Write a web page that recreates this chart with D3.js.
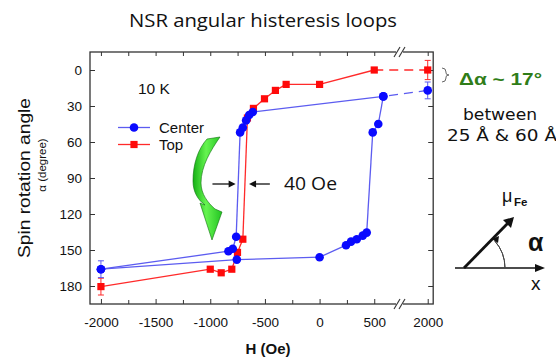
<!DOCTYPE html>
<html>
<head>
<meta charset="utf-8">
<script src="https://cdn.jsdelivr.net/npm/d3@7"></script>
<style>
  body { margin: 0; background: #fff; }
  svg text { font-family: "Liberation Sans", Arial, sans-serif; }
  .hand { font-family: "Open Sans", "DejaVu Sans", sans-serif; }
  .hand2 { font-family: "DejaVu Sans", sans-serif; }
</style>
</head>
<body>
<svg id="chart" width="556" height="357"></svg>
<script>
// Axis ticks
const xTicks = [-2000, -1500, -1000, -500, 0, 500, 2000];
const xMinorTicks = [-1750, -1250, -750, -250, 250];
const yTicks = [0, 30, 60, 90, 120, 150, 180];

// Center: field swept down from +2000 Oe
const centerDownH = [2000, 583, -611, -644, -672, -702, -727, -763, -794, -834, -2000];
const centerDownA = [17, 22, 35, 37.5, 42, 48, 52, 139, 149, 151, 166];
// Center: field swept up from -2000 Oe
const centerUpH = [-2000, -757, 0, 242, 288, 340, 395, 431, 486, 537, 583];
const centerUpA = [166, 158, 156, 146, 143, 141, 138, 135.5, 52, 45, 22];
// Top
const topH = [-2000, -1000, -900, -803, -751, -702, -660, -605, -504, -404, -306, 0, 500, 2000];
const topA = [180.5, 166, 169, 166, 152, 141, 40, 32, 24, 17, 12, 12, 0, 0];
// Error bars (field, angle, +/-)
const centerErrH = [-2000, 2000];
const centerErrA = [166, 17];
const centerErrD = [7, 7];
const topErrH = [-2000, 2000];
const topErrA = [180.5, 0];
const topErrD = [7, 8];

const seriesNames = ["Center", "Top"];
const seriesColors = ["#0a0aff", "#ff0a0a"];
const lineColors = ["#5c5cf0", "#ff2a2a"];

const svg = d3.select("#chart");

// Broken field axis: the segment 720..1780 Oe is cut out
const x = d3.scaleLinear()
  .domain([-2100, 720, 1780, 2050])
  .range([90, 398.3, 403.6, 433.2]);
const y = d3.scaleLinear().domain([-15, 195]).range([52, 304]);

const plotL = 90, plotR = 433.2, plotT = 52, plotB = 304;
const breakX = 400;

// Title
svg.append("text").attr("class", "hand")
  .attr("x", 263).attr("y", 27).attr("text-anchor", "middle")
  .attr("font-size", 19).attr("fill", "#111")
  .attr("textLength", 268).attr("lengthAdjust", "spacingAndGlyphs")
  .text("NSR angular histeresis loops");

// Axes (inward ticks)
function styleAxis(g) {
  g.select(".domain").remove();
  g.selectAll(".tick line").attr("stroke", "#333").attr("stroke-width", 1);
  g.selectAll(".tick text").attr("fill", "#111").attr("font-size", 13.5)
    .attr("font-family", "Liberation Sans, Arial, sans-serif");
}
const fmt = d => String(d);
svg.append("g").attr("transform", `translate(0,${plotB})`)
  .call(d3.axisBottom(x).tickValues(xTicks).tickSize(-5).tickPadding(13).tickFormat(fmt))
  .call(styleAxis);
svg.append("g").attr("transform", `translate(0,${plotB})`)
  .call(d3.axisBottom(x).tickValues(xMinorTicks).tickSize(-4).tickFormat(""))
  .call(styleAxis);
svg.append("g").attr("transform", `translate(0,${plotT})`)
  .call(d3.axisTop(x).tickValues(xTicks.concat(xMinorTicks)).tickSize(-4).tickFormat(""))
  .call(styleAxis);
svg.append("g").attr("transform", `translate(${plotL},0)`)
  .call(d3.axisLeft(y).tickValues(yTicks).tickSize(-5).tickPadding(8).tickFormat(fmt))
  .call(styleAxis);
svg.append("g").attr("transform", `translate(${plotR},0)`)
  .call(d3.axisRight(y).tickValues(yTicks).tickSize(-5).tickFormat(""))
  .call(styleAxis);

// Frame
svg.append("rect").attr("x", plotL).attr("y", plotT)
  .attr("width", plotR - plotL).attr("height", plotB - plotT)
  .attr("fill", "none").attr("stroke", "#333").attr("stroke-width", 1.3);

// Axis break marks
[plotT, plotB].forEach(yy => {
  svg.append("rect").attr("x", breakX - 4).attr("y", yy - 2).attr("width", 7).attr("height", 4).attr("fill", "#fff");
  [-3, 2].forEach(dx => {
    svg.append("line")
      .attr("x1", breakX + dx - 3).attr("y1", yy + 5)
      .attr("x2", breakX + dx + 3).attr("y2", yy - 5)
      .attr("stroke", "#333").attr("stroke-width", 1.1);
  });
});

// Axis titles
svg.append("text").attr("x", 268).attr("y", 354).attr("text-anchor", "middle")
  .attr("font-size", 15).attr("font-weight", "bold").attr("fill", "#111").text("H (Oe)");
svg.append("text").attr("transform", "translate(30,178) rotate(-90)")
  .attr("text-anchor", "middle").attr("font-size", 17).attr("fill", "#111")
  .attr("textLength", 160).attr("lengthAdjust", "spacingAndGlyphs")
  .text("Spin rotation angle");
svg.append("text").attr("transform", "translate(46,165) rotate(-90)")
  .attr("text-anchor", "middle").attr("font-size", 11.5).attr("fill", "#111")
  .text("α (degree)");

// Lines: solid within the plotted range, dashed across the axis break
const line = d3.line().x(d => x(d[0])).y(d => y(d[1]));
function drawSeriesLine(H, A, color) {
  for (let i = 0; i < H.length - 1; i++) {
    const a = [H[i], A[i]], b = [H[i + 1], A[i + 1]];
    const crosses = Math.max(a[0], b[0]) > 720;
    svg.append("path").attr("d", line([a, b]))
      .attr("fill", "none").attr("stroke", color).attr("stroke-width", 1.3)
      .attr("stroke-dasharray", crosses ? "9,6" : null);
  }
}
function drawErr(H, A, D, color) {
  H.forEach((h, i) => {
    const g = svg.append("g").attr("stroke", color).attr("stroke-width", 1);
    g.append("line").attr("x1", x(h)).attr("x2", x(h)).attr("y1", y(A[i] - D[i])).attr("y2", y(A[i] + D[i]));
    [A[i] - D[i], A[i] + D[i]].forEach(v =>
      g.append("line").attr("x1", x(h) - 3).attr("x2", x(h) + 3).attr("y1", y(v)).attr("y2", y(v)));
  });
}
function squares(H, A, color) {
  svg.append("g").selectAll("rect").data(H.map((h, i) => [h, A[i]])).join("rect")
    .attr("x", d => x(d[0]) - 3.6).attr("y", d => y(d[1]) - 3.6)
    .attr("width", 7.2).attr("height", 7.2).attr("fill", color);
}
function circles(H, A, color) {
  svg.append("g").selectAll("circle").data(H.map((h, i) => [h, A[i]])).join("circle")
    .attr("cx", d => x(d[0])).attr("cy", d => y(d[1])).attr("r", 4.3).attr("fill", color);
}

// Top (red) underneath, Center (blue) on top
drawErr(topErrH, topErrA, topErrD, lineColors[1]);
drawSeriesLine(topH, topA, lineColors[1]);
squares(topH, topA, seriesColors[1]);

drawErr(centerErrH, centerErrA, centerErrD, lineColors[0]);
drawSeriesLine(centerDownH, centerDownA, lineColors[0]);
drawSeriesLine(centerUpH, centerUpA, lineColors[0]);
circles(centerDownH, centerDownA, seriesColors[0]);
circles(centerUpH, centerUpA, seriesColors[0]);

// Legend
const legend = svg.append("g");
seriesNames.forEach((name, i) => {
  const ly = 127.5 + i * 17;
  legend.append("line").attr("x1", 118).attr("x2", 150).attr("y1", ly).attr("y2", ly)
    .attr("stroke", lineColors[i]).attr("stroke-width", 1.3);
  if (i === 0) legend.append("circle").attr("cx", 134).attr("cy", ly).attr("r", 4.3).attr("fill", seriesColors[i]);
  else legend.append("rect").attr("x", 130.4).attr("y", ly - 3.6).attr("width", 7.2).attr("height", 7.2).attr("fill", seriesColors[i]);
  legend.append("text").attr("x", 159).attr("y", ly + 5).attr("font-size", 15).attr("fill", "#111").text(name);
});

// Temperature
svg.append("text").attr("x", 138).attr("y", 94).attr("font-size", 15.5).attr("fill", "#111").text("10 K");

// Coercive-field shift arrows
const arrowY = y(95);
function hArrow(x1, x2) {
  const dir = Math.sign(x2 - x1);
  svg.append("line").attr("x1", x1).attr("x2", x2 - dir * 5).attr("y1", arrowY).attr("y2", arrowY)
    .attr("stroke", "#111").attr("stroke-width", 1.3);
  svg.append("path")
    .attr("d", `M${x2},${arrowY} L${x2 - dir * 7},${arrowY - 3.5} L${x2 - dir * 7},${arrowY + 3.5} Z`)
    .attr("fill", "#111");
}
hArrow(x(-980), x(-768));
hArrow(x(-455), x(-645));
svg.append("text").attr("class", "hand").attr("x", 284).attr("y", 189.5)
  .attr("font-size", 18).attr("fill", "#111")
  .attr("textLength", 53).attr("lengthAdjust", "spacingAndGlyphs").text("40 Oe");

// Curved green arrow showing sweep direction
const defs = svg.append("defs");
const grad = defs.append("linearGradient").attr("id", "greenGrad")
  .attr("x1", "0").attr("x2", "1").attr("y1", "0").attr("y2", "0");
grad.append("stop").attr("offset", "0").attr("stop-color", "#14b014");
grad.append("stop").attr("offset", "0.45").attr("stop-color", "#66f450");
grad.append("stop").attr("offset", "1").attr("stop-color", "#22c422");
svg.append("path")
  .attr("d", "M207,139 C198,149 193,164 193,181 C193,192 198,200 205,205 L200,203 L212,240 L222,212 L215,209 C208,203 201,194 201,183 C201,166 211,150 220,137 Z")
  .attr("fill", "url(#greenGrad)").attr("stroke", "#0d6e0d").attr("stroke-width", 0.6);

// Annotation on the right
svg.append("path")
  .attr("d", "M442,68 Q446,68 446,72 L446,73 Q446,75 449,75 Q446,75 446,77 L446,78 Q446,82 442,82")
  .attr("fill", "none").attr("stroke", "#666").attr("stroke-width", 1);
svg.append("text").attr("x", 459).attr("y", 85).attr("font-size", 17).attr("font-weight", "bold")
  .attr("fill", "#2f7d18").attr("textLength", 83).attr("lengthAdjust", "spacingAndGlyphs")
  .text("Δα ~ 17°");
svg.append("text").attr("class", "hand2").attr("x", 500).attr("y", 119.5).attr("text-anchor", "middle")
  .attr("font-size", 16).attr("fill", "#111").attr("textLength", 74).attr("lengthAdjust", "spacingAndGlyphs")
  .text("between");
svg.append("text").attr("class", "hand2").attr("x", 447).attr("y", 140.5)
  .attr("font-size", 16).attr("fill", "#111").attr("textLength", 110).attr("lengthAdjust", "spacingAndGlyphs")
  .text("25 Å & 60 Å");

// Magnetization direction sketch
const ox = 464, oy = 268;
svg.append("line").attr("x1", 455).attr("x2", 537).attr("y1", oy).attr("y2", oy)
  .attr("stroke", "#111").attr("stroke-width", 1.5);
svg.append("path").attr("d", `M545,${oy} L535,${oy - 4} L535,${oy + 4} Z`).attr("fill", "#111");
const mx = 514, my = 217;
svg.append("line").attr("x1", ox).attr("y1", oy).attr("x2", mx - 5).attr("y2", my + 5)
  .attr("stroke", "#111").attr("stroke-width", 2.8);
svg.append("path").attr("d", `M${mx},${my} L${mx - 11},${my + 3} L${mx - 3},${my + 11} Z`).attr("fill", "#111");
const arc = d3.arc().innerRadius(41).outerRadius(41).startAngle(Math.PI / 2).endAngle(Math.PI / 4 + 0.06);
svg.append("path").attr("transform", `translate(${ox},${oy})`).attr("d", arc())
  .attr("fill", "none").attr("stroke", "#444").attr("stroke-width", 1);
svg.append("path").attr("d", "M492,239 L499,236 L498,243 Z").attr("fill", "#111");
svg.append("text").attr("x", 502).attr("y", 202).attr("font-size", 18).attr("fill", "#111").text("μ");
svg.append("text").attr("x", 514).attr("y", 206).attr("font-size", 11.5).attr("font-weight", "bold").attr("fill", "#111").text("Fe");
svg.append("text").attr("x", 528).attr("y", 251).attr("font-size", 25).attr("font-weight", "bold")
  .attr("font-family", "Liberation Serif, serif").attr("fill", "#111").text("α");
svg.append("text").attr("x", 531).attr("y", 290).attr("font-size", 19).attr("fill", "#111").text("x");
</script>
</body>
</html>
